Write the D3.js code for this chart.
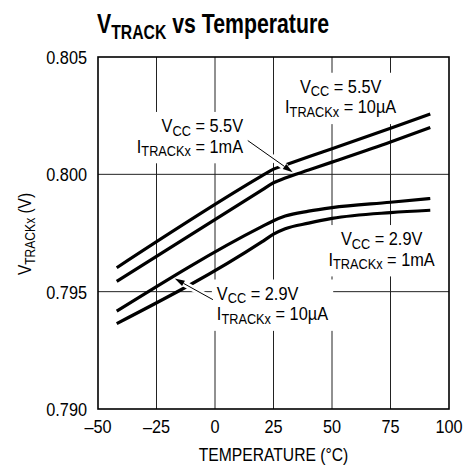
<!DOCTYPE html>
<html>
<head>
<meta charset="utf-8">
<script src="https://cdn.jsdelivr.net/npm/d3@7"></script>
<style>
  html, body { margin: 0; padding: 0; background: #fff; }
  svg { display: block; }
  text { font-family: "Liberation Sans", Arial, sans-serif; fill: #000; }
</style>
</head>
<body>
<svg id="chart" width="467" height="466"></svg>
<script>
// ---- data ----
const temperatures = [-42, 20, 25, 30, 40, 50, 75, 92];
const vcc55_10uA = [0.79602, 0.79993, 0.80022, 0.80040, 0.80075, 0.80109, 0.80196, 0.80257];
const vcc55_1mA  = [0.79544, 0.79933, 0.79964, 0.79984, 0.80018, 0.80052, 0.80138, 0.80200];
const vcc29_1mA  = [0.79417, 0.79777, 0.79802, 0.79822, 0.79843, 0.79858, 0.79881, 0.79897];
const vcc29_10uA = [0.79364, 0.79712, 0.79745, 0.79768, 0.79792, 0.79812, 0.79837, 0.79847];

const xTicks = [-50, -25, 0, 25, 50, 75, 100];
const xTickLabels = ["–50", "–25", "0", "25", "50", "75", "100"];
const yTicks = [0.790, 0.795, 0.800, 0.805];
const yTickLabels = ["0.790", "0.795", "0.800", "0.805"];

const seriesList = [vcc55_10uA, vcc55_1mA, vcc29_1mA, vcc29_10uA];

// ---- layout ----
const W = 467, H = 466;
const plot = { left: 98, right: 449, top: 57, bottom: 409 };
const SX = 0.86; // horizontal condensing of text (condensed face look)

const svg = d3.select("#chart");
const x = d3.scaleLinear().domain([-50, 100]).range([plot.left, plot.right]);
const y = d3.scaleLinear().domain([0.790, 0.805]).range([plot.bottom, plot.top]);

svg.append("rect").attr("width", W).attr("height", H).attr("fill", "#fff");

function cg(parent, px, py, sx, rot) {
  return parent.append("g")
    .attr("transform", `translate(${px},${py})` + (rot ? ` rotate(${rot})` : "") + ` scale(${sx},1)`);
}

function rich(g, parts, size, anchor) {
  const t = g.append("text").attr("font-size", size).attr("text-anchor", anchor || "start");
  let shifted = 0;
  parts.forEach(p => {
    const ts = t.append("tspan").text(p.t);
    if (p.sub) {
      ts.attr("font-size", size * p.sub).attr("dy", p.shift - shifted);
      shifted = p.shift;
    } else {
      if (shifted) ts.attr("dy", -shifted);
      shifted = 0;
    }
  });
  return t;
}

// title
rich(cg(svg, 97, 33, 0.76), [{t: "V"}, {t: "TRACK", sub: 0.74, shift: 5.5}, {t: " vs Temperature"}], 28)
  .attr("font-weight", "bold");

// grid lines
const grid = svg.append("g").attr("stroke", "#222").attr("stroke-width", 1);
grid.selectAll("line.v").data(xTicks.slice(1, -1)).enter().append("line")
  .attr("x1", d => x(d)).attr("x2", d => x(d))
  .attr("y1", plot.top).attr("y2", plot.bottom);
grid.selectAll("line.h").data(yTicks.slice(1, -1)).enter().append("line")
  .attr("y1", d => y(d)).attr("y2", d => y(d))
  .attr("x1", plot.left).attr("x2", plot.right);

// annotations (positions in data units)
const annotations = [
  { tx: 53.7, ty: 0.80347, anchor: "middle",
    lines: [[{t: "V"}, {t: "CC", sub: 0.78, shift: 3.5}, {t: " = 5.5V"}],
            [{t: "I"}, {t: "TRACKx", sub: 0.78, shift: 3.5}, {t: " = 10µA"}]] },
  { tx: 12.0, ty: 0.80180, anchor: "end",
    lines: [[{t: "V"}, {t: "CC", sub: 0.78, shift: 3.5}, {t: " = 5.5V"}],
            [{t: "I"}, {t: "TRACKx", sub: 0.78, shift: 3.5}, {t: " = 1mA"}]] },
  { tx: 71.2, ty: 0.79698, anchor: "middle",
    lines: [[{t: "V"}, {t: "CC", sub: 0.78, shift: 3.5}, {t: " = 2.9V"}],
            [{t: "I"}, {t: "TRACKx", sub: 0.78, shift: 3.5}, {t: " = 1mA"}]] },
  { tx: 0.8, ty: 0.79466, anchor: "start",
    lines: [[{t: "V"}, {t: "CC", sub: 0.78, shift: 3.5}, {t: " = 2.9V"}],
            [{t: "I"}, {t: "TRACKx", sub: 0.78, shift: 3.5}, {t: " = 10µA"}]] }
];

const bgLayer = svg.append("g");
const curveLayer = svg.append("g");
const arrowLayer = svg.append("g");
const textLayer = svg.append("g");

annotations.forEach(a => {
  const px = x(a.tx), py = y(a.ty);
  const g = cg(textLayer, px, py, SX);
  a.lines.forEach((ln, i) => {
    rich(g, ln, 19, a.anchor).attr("y", i * 20.5);
  });
  const bb = g.node().getBBox();
  bgLayer.append("rect")
    .attr("x", px + bb.x * SX - 5).attr("y", py + bb.y - 3)
    .attr("width", bb.width * SX + 10).attr("height", bb.height + 7)
    .attr("fill", "#fff");
});

// border
svg.append("rect")
  .attr("x", plot.left).attr("y", plot.top)
  .attr("width", plot.right - plot.left).attr("height", plot.bottom - plot.top)
  .attr("fill", "none").attr("stroke", "#000").attr("stroke-width", 1.6);

// curves
const line = d3.line()
  .x((d, i) => x(temperatures[i]))
  .y(d => y(d))
  .curve(d3.curveMonotoneX);
curveLayer.selectAll("path").data(seriesList).enter().append("path")
  .attr("d", d => line(d))
  .attr("fill", "none").attr("stroke", "#000").attr("stroke-width", 3.2);

// arrows (data units)
const arrows = [
  { from: [14.0, 0.80144], to: [33.2, 0.80009], halo: 7 },
  { from: [-0.9, 0.79466], to: [-17.2, 0.79556], halo: 6 }
];
arrows.forEach(a => {
  const x1 = x(a.from[0]), y1 = y(a.from[1]), x2 = x(a.to[0]), y2 = y(a.to[1]);
  const dx = x2 - x1, dy = y2 - y1, L = Math.hypot(dx, dy);
  const ux = dx / L, uy = dy / L;
  const hl = 10, hw = 3;
  arrowLayer.append("line")
    .attr("x1", x1).attr("y1", y1)
    .attr("x2", x2 - ux * 8).attr("y2", y2 - uy * 8)
    .attr("stroke", "#fff").attr("stroke-width", a.halo);
  arrowLayer.append("line")
    .attr("x1", x1).attr("y1", y1)
    .attr("x2", x2 - ux * hl).attr("y2", y2 - uy * hl)
    .attr("stroke", "#000").attr("stroke-width", 1);
  const bx = x2 - ux * hl, by = y2 - uy * hl;
  arrowLayer.append("path")
    .attr("d", `M${x2},${y2}L${bx - uy * hw},${by + ux * hw}L${bx + uy * hw},${by - ux * hw}Z`)
    .attr("fill", "#000");
});

// axis tick labels
xTicks.forEach((d, i) => {
  cg(svg, x(d), 433, 0.88).append("text")
    .attr("text-anchor", "middle").attr("font-size", 18.5).text(xTickLabels[i]);
});
yTicks.forEach((d, i) => {
  cg(svg, 87, y(d) + 7, 0.88).append("text")
    .attr("text-anchor", "end").attr("font-size", 18.5).text(yTickLabels[i]);
});

// axis titles
cg(svg, (plot.left + plot.right) / 2, 461, 0.87).append("text")
  .attr("text-anchor", "middle").attr("font-size", 18)
  .text("TEMPERATURE (°C)");
rich(cg(svg, 31, 234, SX, -90), [{t: "V"}, {t: "TRACKx", sub: 0.78, shift: 3.5}, {t: " (V)"}], 18, "middle");
</script>
</body>
</html>
